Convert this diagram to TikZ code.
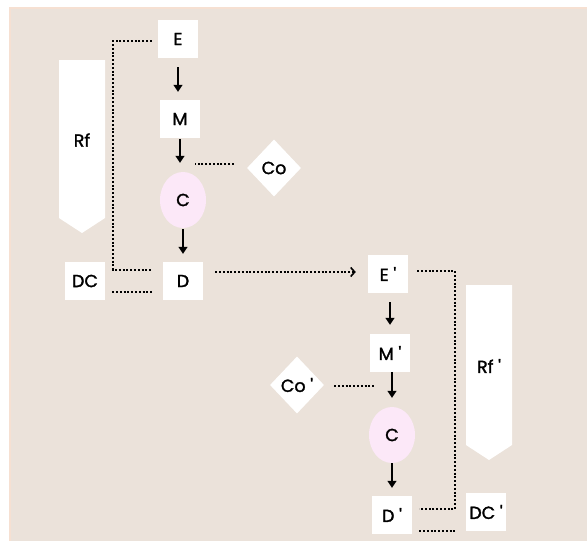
\documentclass[tikz,border=0pt]{standalone}
\usepackage{fontspec}
\setmainfont{Poppins}
\newfontfamily\lab{Poppins}[RawFeature={embolden=1.6}]
\usetikzlibrary{arrows.meta,shapes.geometric,calc}
\definecolor{bg}{RGB}{235,226,218}
\definecolor{bgedge}{RGB}{246,224,210}
\definecolor{pinkc}{RGB}{252,232,248}
\newcommand{\apo}{{\char"27}}
\begin{document}
\begin{tikzpicture}[x=1pt,y=-1pt,
  every node/.style={font=\lab\fontsize{17.5}{20}\selectfont, text=black},
  wbox/.style={fill=white, minimum width=40pt, minimum height=38pt, inner sep=0pt},
  ebox/.style={ellipse, fill=pinkc, minimum width=46pt, minimum height=56pt, inner sep=0pt},
  dbox/.style={diamond, fill=white, minimum width=54pt, minimum height=57pt, inner sep=0pt},
  arr/.style={line width=1.5pt, -{Triangle[length=7pt,width=9pt]}},
  dotline/.style={line width=2pt, dash pattern=on 2pt off 1.8pt},
  dotarr/.style={dotline, -{Straight Barb[length=4pt,width=9pt,line width=1.6pt]}}
]
\useasboundingbox (0,0) rectangle (587,541);
\fill[bgedge] (9,7) rectangle (587,541);
\fill[bg] (10.5,8.5) rectangle (587,541);

% Rf shapes
\fill[white] (59,60) -- (105,60) -- (105,218) -- (82,233) -- (59,218) -- cycle;
\node (Rf) at (82,140) {Rf};
\fill[white] (466,285) -- (512,285) -- (512,445) -- (489,460) -- (466,445) -- cycle;
\node (Rfp) at (489,366) {Rf \apo};

% first chain
\node[wbox] (E) at (178,39) {E};
\node[wbox] (M) at (180,119) {M};
\node[ebox] (C) at (183,200) {C};
\node[wbox] (D) at (183,281) {D};
\node[wbox] (DC) at (85,281) {DC};
\node[dbox] (Co) at (274,168) {Co};

% second chain
\node[wbox] (Ep) at (388,274) {E \apo};
\node[wbox] (Mp) at (390,353) {M \apo};
\node[ebox] (Cp) at (392,435) {C};
\node[wbox] (Dp) at (392,515) {D \apo};
\node[wbox] (DCp) at (486,512) {DC \apo};
\node[dbox] (Cop) at (297,385) {Co \apo};

% solid arrows
\draw[arr, shorten <=9pt, shorten >=8pt] (E) -- (E |- M.north);
\draw[arr, shorten <=1pt, shorten >=9pt] (M) -- (M |- C.north);
\draw[arr, shorten <=1pt, shorten >=8pt] (C) -- (C |- D.north);
\draw[arr, shorten <=9pt, shorten >=9pt] (Mp |- Ep.south) -- (Mp.north);
\draw[arr, shorten <=0pt, shorten >=9pt] (Mp.south -| Cp) -- (Cp.north);
\draw[arr, shorten <=0pt, shorten >=8pt] (Cp.south) -- (Cp |- Dp.north);

% dotted connectors, first part
\coordinate (eL) at (113,41);
\coordinate (dL) at (113,270);
\draw[dotline, shorten <=6pt] (E.west |- eL) -- (eL) -- (dL) -- ($(D.west |- dL)+(-11,0)$);
\draw[dotline, shorten <=7pt, shorten >=11pt] ($(DC.east)+(0,11)$) -- ($(D.west)+(0,11)$);
\coordinate (coL) at (195,164);
\draw[dotline, shorten <=13pt] (Co.west |- coL) -- (coL);
\draw[dotarr, shorten <=12pt, shorten >=12pt] (D.east |- 0,272) -- (Ep.west |- 0,272);

% dotted connectors, second part
\coordinate (eR) at (455,271);
\coordinate (dR) at (455,509);
\draw[dotline, shorten <=9pt] (Ep.east |- eR) -- (eR) -- (dR) -- ($(Dp.east |- dR)+(7,0)$);
\draw[dotline] ($(Dp.east)+(7,16)$) -- ($(DCp.west |- Dp.east)+(-9,16)$);
\coordinate (copR) at (375,386);
\draw[dotline, shorten <=10pt] (Cop.east |- copR) -- (copR);
\end{tikzpicture}
\end{document}
